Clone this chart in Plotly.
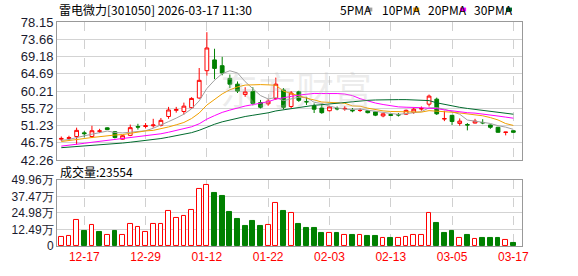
import plotly.graph_objects as go
import pandas as pd

# ---------------- data ----------------
dates = [
    "2025-12-12", "2025-12-15", "2025-12-16", "2025-12-17", "2025-12-18", "2025-12-19",
    "2025-12-22", "2025-12-23", "2025-12-24", "2025-12-25", "2025-12-26", "2025-12-29",
    "2025-12-30", "2025-12-31", "2026-01-05", "2026-01-06", "2026-01-07", "2026-01-08",
    "2026-01-09", "2026-01-12", "2026-01-13", "2026-01-14", "2026-01-15", "2026-01-16",
    "2026-01-19", "2026-01-20", "2026-01-21", "2026-01-22", "2026-01-23", "2026-01-26",
    "2026-01-27", "2026-01-28", "2026-01-29", "2026-01-30", "2026-02-02", "2026-02-03",
    "2026-02-04", "2026-02-05", "2026-02-06", "2026-02-09", "2026-02-10", "2026-02-11",
    "2026-02-12", "2026-02-13", "2026-02-24", "2026-02-25", "2026-02-26", "2026-02-27",
    "2026-03-02", "2026-03-03", "2026-03-04", "2026-03-05", "2026-03-06", "2026-03-09",
    "2026-03-10", "2026-03-11", "2026-03-12", "2026-03-13", "2026-03-16", "2026-03-17",
]
opens = [47.7, 47.9, 48.4, 49.35, 48.4, 49.75, 50.65, 49.65, 47.7, 48.7,
         51.0, 51.0, 51.2, 51.3, 53.6, 55.2, 54.9, 55.9, 58.4, 65.5,
         68.3, 66.8, 63.5, 62.0, 59.3, 60.1, 57.2, 56.9, 58.3, 60.5,
         56.2, 60.0, 57.5, 56.4, 55.8, 55.1, 55.7, 55.55, 55.2, 55.15,
         55.1, 54.8, 53.75, 54.1, 54.1, 54.2, 54.7, 55.55, 56.8, 58.1,
         52.95, 53.9, 51.8, 51.5, 51.9, 52.05, 51.4, 50.8, 49.45, 49.9]
highs = [48.4, 48.6, 50.7, 49.8, 51.2, 50.4, 50.8, 49.8, 48.8, 51.5,
         51.7, 51.9, 53.0, 53.2, 56.1, 56.1, 57.2, 58.6, 66.2, 75.5,
         71.2, 69.1, 64.5, 62.7, 61.2, 61.2, 57.9, 58.1, 63.7, 61.0,
         60.2, 60.3, 58.7, 57.0, 56.9, 56.4, 56.2, 56.3, 55.8, 55.7,
         55.3, 55.0, 54.4, 54.3, 54.5, 55.4, 55.8, 56.2, 59.3, 58.5,
         55.1, 54.0, 53.1, 51.9, 53.0, 52.9, 51.5, 50.9, 49.6, 49.95]
lows = [47.2, 47.4, 46.3, 48.2, 48.0, 49.3, 50.1, 47.9, 47.6, 48.5,
        50.2, 50.5, 50.7, 51.0, 53.0, 54.6, 54.1, 55.6, 58.2, 64.2,
        63.3, 64.3, 61.0, 59.7, 58.7, 56.5, 55.7, 56.4, 57.9, 55.5,
        55.7, 57.4, 56.6, 54.5, 54.3, 54.9, 55.2, 55.1, 54.7, 54.8,
        54.4, 53.7, 53.4, 53.7, 53.6, 54.0, 54.3, 55.1, 56.2, 54.0,
        52.4, 51.4, 51.2, 50.0, 51.8, 51.6, 50.4, 49.4, 48.7, 49.4]
closes = [47.9, 48.1, 50.0, 49.15, 49.9, 49.85, 50.2, 48.15, 48.6, 50.7,
          50.85, 51.2, 51.4, 52.6, 55.3, 55.4, 56.3, 58.3, 63.0, 71.4,
          66.1, 64.9, 62.0, 60.2, 60.0, 57.0, 56.0, 57.6, 62.0, 56.0,
          59.7, 57.8, 57.4, 55.5, 54.6, 56.1, 55.6, 55.7, 55.1, 55.2,
          54.6, 53.95, 54.3, 53.9, 54.0, 55.2, 55.5, 55.65, 58.9, 54.3,
          53.05, 52.3, 52.4, 51.4, 52.4, 51.95, 50.8, 49.5, 49.55, 49.5]
# closes before the visible window (estimated from where the MA lines start)
pre_closes = [44.2, 44.5, 45.0, 44.8, 44.6, 44.9, 45.1, 44.7, 44.4, 44.8,
              44.3, 44.0, 44.2, 44.6, 44.9, 45.2, 44.8, 44.5, 45.0, 45.5,
              46.0, 46.5, 47.0, 47.2, 47.3, 47.0, 47.5, 47.4, 47.2]
# volume in 万 (10,000 lots)
volumes = [7.1, 7.8, 19.4, 11.6, 15.8, 10.9, 8.5, 11.6, 8.5, 16.5,
           14.3, 10.9, 16.5, 16.5, 26.7, 21.1, 23.0, 27.4, 42.9, 46.3,
           40.0, 38.0, 25.4, 20.4, 15.3, 18.9, 15.3, 15.8, 32.5, 26.2,
           25.2, 16.7, 13.8, 13.8, 9.5, 10.0, 9.5, 8.5, 8.7, 8.0,
           7.3, 7.3, 5.8, 5.8, 5.8, 7.1, 8.5, 8.5, 25.2, 17.7,
           9.5, 11.1, 6.3, 8.0, 5.6, 5.8, 5.8, 5.8, 4.4, 2.3554]
tick_dates = ["2025-12-17", "2025-12-29", "2026-01-12", "2026-01-22",
              "2026-02-03", "2026-02-13", "2026-03-05", "2026-03-17"]
price_ticks = [42.26, 46.75, 51.23, 55.72, 60.21, 64.69, 69.18, 73.66, 78.15]
volume_ticks = [0, 12.49, 24.98, 37.47, 49.96]
ma_periods = [5, 10, 20, 30]
ma_colors = ["#a0a0a0", "#f0a000", "#ff00ff", "#006b2e"]
stock_title = "雷电微力[301050] 2026-03-17 11:30"

# ---------------- build ----------------
RED = "#ff0000"
GREEN = "#008000"
idx = list(range(len(dates)))
all_close = pd.Series(pre_closes + closes)

fig = go.Figure()

fig.add_trace(go.Candlestick(
    x=idx, open=opens, high=highs, low=lows, close=closes,
    increasing=dict(line=dict(color=RED, width=1), fillcolor="white"),
    decreasing=dict(line=dict(color=GREEN, width=1), fillcolor=GREEN),
    whiskerwidth=0, xaxis="x", yaxis="y", showlegend=False, hoverinfo="skip",
))

for n, col in zip(ma_periods, ma_colors):
    ma = all_close.rolling(n).mean().iloc[len(pre_closes):].tolist()
    fig.add_trace(go.Scatter(x=idx, y=ma, mode="lines", line=dict(color=col, width=1),
                             xaxis="x", yaxis="y", showlegend=False, hoverinfo="skip"))

up_vol = [True] + [closes[i] >= closes[i - 1] for i in range(1, len(closes))]
fig.add_trace(go.Bar(
    x=idx, y=volumes, width=0.62,
    marker=dict(color=["white" if u else GREEN for u in up_vol],
                line=dict(color=[RED if u else GREEN for u in up_vol], width=1)),
    xaxis="x2", yaxis="y2", showlegend=False, hoverinfo="skip",
))

L, R, T, B = 56, 56, 22, 21
W, H = 578, 276
pw, ph = W - L - R, H - T - B


def px(x):
    return (x - L) / pw


def py(y):
    return (H - B - y) / ph


price_dom = [py(165.7), 1.0]
vol_dom = [0.0, py(186.3)]

tickvals = [dates.index(d) for d in tick_dates]
ticktext = [d[5:] for d in tick_dates]
xrange_ = [-0.56, len(dates) + 0.13]

axis_common = dict(showline=True, mirror=True, linecolor="#999999", linewidth=1,
                   zeroline=False, ticks="")
fig.update_layout(
    width=W, height=H,
    margin=dict(l=L, r=R, t=T, b=B, pad=0),
    paper_bgcolor="white", plot_bgcolor="white",
    font=dict(family="Liberation Sans, Arial", size=13, color="#1a1a2e"),
    xaxis=dict(domain=[0, 1], range=xrange_, anchor="y", tickvals=tickvals,
               showticklabels=False, showgrid=True, gridcolor="#d0d0d0",
               griddash="dash", gridwidth=1, rangeslider=dict(visible=False),
               **axis_common),
    xaxis2=dict(domain=[0, 1], range=xrange_, anchor="y2", matches="x",
                tickvals=tickvals, ticktext=ticktext, showgrid=True,
                gridcolor="#d0d0d0", griddash="dash", gridwidth=1,
                tickfont=dict(color=RED, size=12, family="Liberation Sans, Arial"),
                **axis_common),
    yaxis=dict(domain=price_dom, range=[price_ticks[0], price_ticks[-1]], anchor="x",
               tickvals=price_ticks, ticktext=[f"{v:.2f}" for v in price_ticks],
               showgrid=True, gridcolor="#d3d3d3", gridwidth=1,
               tickfont=dict(size=13), **axis_common),
    yaxis2=dict(domain=vol_dom, range=[volume_ticks[0], volume_ticks[-1]], anchor="x2",
                tickvals=volume_ticks,
                ticktext=[("0" if v == 0 else f"{v:.2f}万") for v in volume_ticks],
                showgrid=True, gridcolor="#d3d3d3", gridwidth=1,
                tickfont=dict(size=12, family="Liberation Sans Narrow, Liberation Sans, Arial"),
                **axis_common),
    bargap=0,
)

ann = []
ann.append(dict(text=stock_title, x=px(56), y=py(9), xref="paper", yref="paper",
                xanchor="left", yanchor="middle", showarrow=False,
                font=dict(family="Noto Sans CJK SC", size=12, color="#000000")))
ann.append(dict(text=f"成交量:{round(volumes[-1] * 10000)}", x=px(57), y=py(177),
                xref="paper", yref="paper", xanchor="left", yanchor="middle",
                showarrow=False,
                font=dict(family="Noto Sans CJK SC", size=12, color="#000000")))
ann.append(dict(text="东方财富", x=px(296), y=py(90), xref="paper", yref="paper",
                xanchor="center", yanchor="middle", showarrow=False,
                font=dict(family="Noto Sans CJK SC", size=38, color="rgba(190,190,190,0.28)")))

shapes = []
leg_x = [338, 380, 426, 472]
sq_x = [366, 413, 460, 506]
for n, col, lx, sx in zip(ma_periods, ma_colors, leg_x, sq_x):
    ann.append(dict(text=f"{n}PMA", x=px(lx), y=py(9), xref="paper", yref="paper",
                    xanchor="left", yanchor="middle", showarrow=False,
                    font=dict(family="Noto Sans CJK SC", size=12, color="#000000")))
    shapes.append(dict(type="rect", xref="paper", yref="paper",
                       x0=px(sx), x1=px(sx + 6), y0=py(11), y1=py(7),
                       fillcolor=col, line=dict(width=0)))

fig.update_layout(annotations=ann, shapes=shapes)
fig.write_html("out.html")
